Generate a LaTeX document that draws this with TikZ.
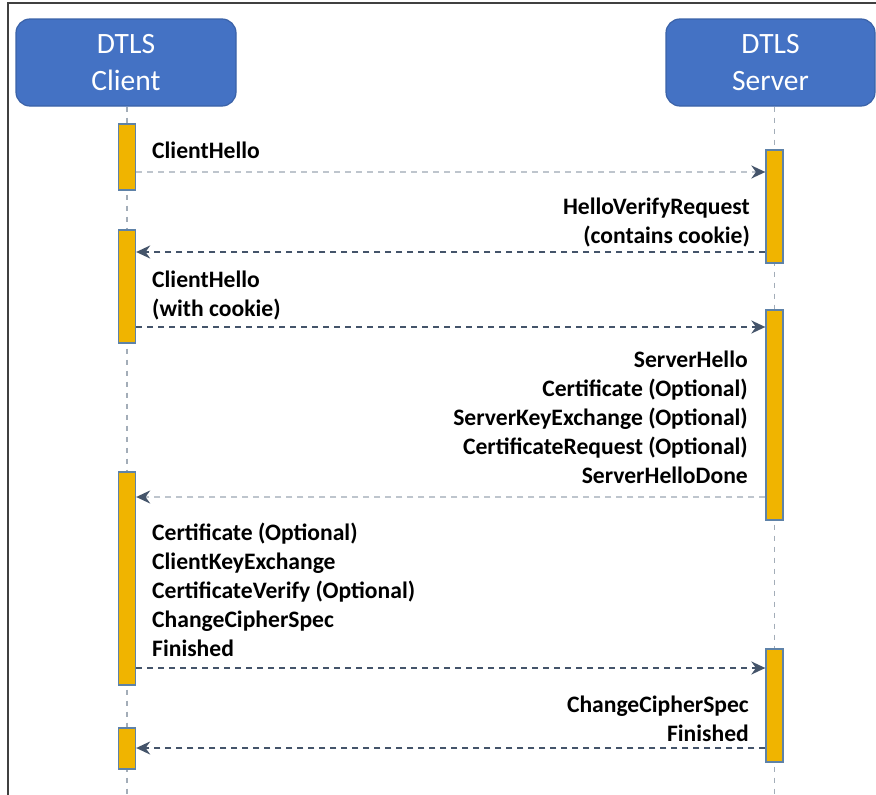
\documentclass[tikz,border=0pt]{standalone}
\usepackage{fontspec}
\setmainfont{Carlito}
\usepackage{xcolor}
\usepackage{tikz}
\usetikzlibrary{arrows.meta}

\definecolor{headfill}{HTML}{4472C4}
\definecolor{headline}{HTML}{3A62A8}
\definecolor{barfill}{HTML}{F0B400}
\definecolor{barline}{HTML}{5E82A8}
\definecolor{lifeline}{HTML}{A3ADB8}
\definecolor{darkmsg}{HTML}{44546A}
\definecolor{lightmsg}{HTML}{BEC5CD}
\definecolor{frameline}{HTML}{404040}

\begin{document}
\begin{tikzpicture}[x=1pt, y=-1pt,
  head/.style={draw=headline, fill=headfill, line width=1.2pt, rounded corners=14pt,
    minimum height=87pt, text=white, align=center,
    font=\fontsize{29.5}{37}\selectfont},
  bar/.style={draw=barline, fill=barfill, line width=1.3pt, minimum width=17pt, inner sep=0pt},
  life/.style={draw=lifeline, line width=1.2pt, dash pattern=on 5pt off 6pt},
  msg/.style={draw=darkmsg, line width=2.2pt, dash pattern=on 6pt off 5pt,
    -{Stealth[length=14pt, width=13pt, color=darkmsg]}},
  faintmsg/.style={msg, draw=lightmsg},
  lbl/.style={inner sep=0pt, font=\fontsize{23.6}{29}\selectfont\bfseries}]
  \useasboundingbox (0,0) rectangle (876,795);
  \draw[frameline, line width=1.5pt] (8,795) -- (8,3) -- (876,3);

  \node[head, minimum width=220pt] (client) at (126,62.5) {DTLS\\Client};
  \node[head, minimum width=209pt] (server) at (770.5,62.5) {DTLS\\Server};
  \coordinate (cend) at (127,795);
  \coordinate (send) at (774.5,795);
  \draw[life] (client.south -| cend) -- (cend);
  \draw[life] (server.south -| send) -- (send);

  \node[bar, minimum height=66pt] (c1) at (127,157) {};
  \node[bar, minimum height=113pt] (c2) at (127,286.5) {};
  \node[bar, minimum height=213pt] (c3) at (127,578.5) {};
  \node[bar, minimum height=41pt] (c4) at (127,748.5) {};
  \node[bar, minimum height=113pt] (s1) at (774.5,206.5) {};
  \node[bar, minimum height=210pt] (s2) at (774.5,415) {};
  \node[bar, minimum height=113pt] (s3) at (774.5,705.5) {};

  \coordinate (m1) at (0,172);
  \coordinate (m2) at (0,252);
  \coordinate (m3) at (0,327);
  \coordinate (m4) at (0,497);
  \coordinate (m5) at (0,668);
  \coordinate (m6) at (0,748);
  \draw[faintmsg] (c1.east |- m1) -- (s1.west |- m1);
  \draw[msg] (s1.west |- m2) -- (c2.east |- m2);
  \draw[msg] (c2.east |- m3) -- (s2.west |- m3);
  \draw[faintmsg] (s2.west |- m4) -- (c3.east |- m4);
  \draw[msg] (c3.east |- m5) -- (s3.west |- m5);
  \draw[msg] (s3.west |- m6) -- (c4.east |- m6);

  \node[lbl, anchor=base west] (hello) at (152,158) {ClientHello};
  \node[lbl, anchor=base east, align=right] (verify) at (750,243)
    {HelloVerifyRequest\\(contains cookie)};
  \node[lbl, anchor=base west, align=left] (hellocookie) at (152,316)
    {ClientHello\\(with cookie)};
  \node[lbl, anchor=base east, align=right] (serverflight) at (748,483)
    {ServerHello\\Certificate (Optional)\\ServerKeyExchange (Optional)\\CertificateRequest (Optional)\\ServerHelloDone};
  \node[lbl, anchor=base west, align=left] (clientflight) at (152,656)
    {Certificate (Optional)\\ClientKeyExchange\\CertificateVerify (Optional)\\ChangeCipherSpec\\Finished};
  \node[lbl, anchor=base east, align=right] (finish) at (749,741)
    {ChangeCipherSpec\\Finished};
\end{tikzpicture}
\end{document}
